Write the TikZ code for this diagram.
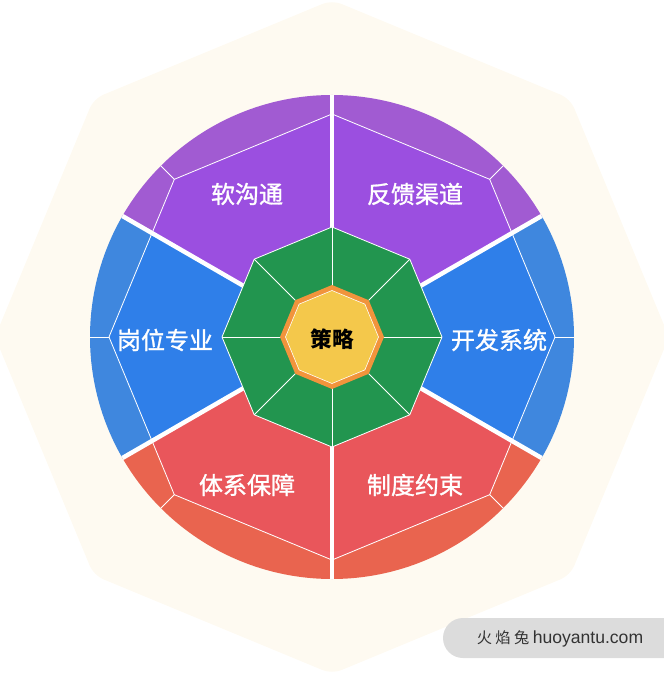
\documentclass[tikz,border=0pt]{standalone}
\usepackage{fontspec}
\newfontfamily\cjk{Noto Sans CJK SC}
\newfontfamily\cjkmid[FakeBold=1.2]{Noto Sans CJK SC}
\newfontfamily\wmlatin{Liberation Sans}
\definecolor{bgcream}{HTML}{FEFAF1}
\definecolor{purplecore}{HTML}{9B4FE0}
\definecolor{purpleband}{HTML}{A15BD2}
\definecolor{bluecore}{HTML}{2F7FE9}
\definecolor{blueband}{HTML}{3F87DE}
\definecolor{redcore}{HTML}{E9565B}
\definecolor{redband}{HTML}{E9644F}
\definecolor{greencore}{HTML}{22954F}
\definecolor{orangering}{HTML}{F1943C}
\definecolor{yellowcore}{HTML}{F4C84B}
\definecolor{wmgray}{HTML}{DCDCDC}
\definecolor{wmtext}{HTML}{333333}
\def\lblfont{\cjkmid\fontsize{20.5}{24}\selectfont}
\def\octagon#1{(0:#1) -- (45:#1) -- (90:#1) -- (135:#1) -- (180:#1) -- (225:#1) -- (270:#1) -- (315:#1) -- cycle}

\begin{document}
\begin{tikzpicture}[x=0.3mm,y=0.3mm,
			hair/.style={draw=white,line width=0.7pt},
			gap/.style={draw=white,line width=3.8pt},
			lbl/.style={text=white,font=\lblfont,inner sep=0pt},
			hub/.style={text=black,font=\cjk\bfseries\fontsize{18.5}{22}\selectfont,inner sep=0pt},
			wm/.style={text=wmtext,inner sep=0pt}]
			\useasboundingbox (-332,-337) rectangle (331,337);
			\fill[bgcream,rounded corners=3mm] \octagon{337};
			\foreach \a/\band/\core in {-30/blueband/bluecore,30/purpleband/purplecore,90/purpleband/purplecore,150/blueband/bluecore,210/redband/redcore,270/redband/redcore}{
				\fill[\band] (0,0) -- (\a:242) arc[start angle=\a,delta angle=60,radius=242] -- cycle;
				\begin{scope}
					\clip (0,0) -- (\a:320) -- ({\a+60}:320) -- cycle;
					\fill[\core] \octagon{223};
				\end{scope}
			}
			\draw[hair] \octagon{223};
			\foreach \b in {0,45,...,315} \draw[hair] (\b:223) -- (\b:242);
			\foreach \a in {-30,30,...,270} \draw[gap] (0,0) -- (\a:242);
			\fill[greencore] \octagon{110};
			\draw[hair] \octagon{110};
			\foreach \b in {0,45,...,315} \draw[hair] (\b:50) -- (\b:110);
			\fill[orangering] \octagon{52};
			\fill[yellowcore] \octagon{46.5};
			\draw[hair,line width=0.5pt] \octagon{46.5};
			\node[hub] (hub) at (0,-2) {策略};
			\node[lbl] (soft) at (-85,143) {软沟通};
			\node[lbl] (feedback) at (83,143) {反馈渠道};
			\node[lbl] (post) at (-167,-3) {岗位专业};
			\node[lbl] (devsys) at (167,-3) {开发系统};
			\node[lbl] (guarantee) at (-85,-148) {体系保障};
			\node[lbl] (rules) at (83,-148) {制度约束};
			\fill[wmgray,rounded corners=6mm] (111,-281) rectangle (360,-321);
			\node[wm] (mark) at (228,-302) {\cjk\fontsize{13}{15}\selectfont 火 焰 兔 \wmlatin\fontsize{15}{18}\selectfont huoyantu.com};
\end{tikzpicture}
\end{document}
